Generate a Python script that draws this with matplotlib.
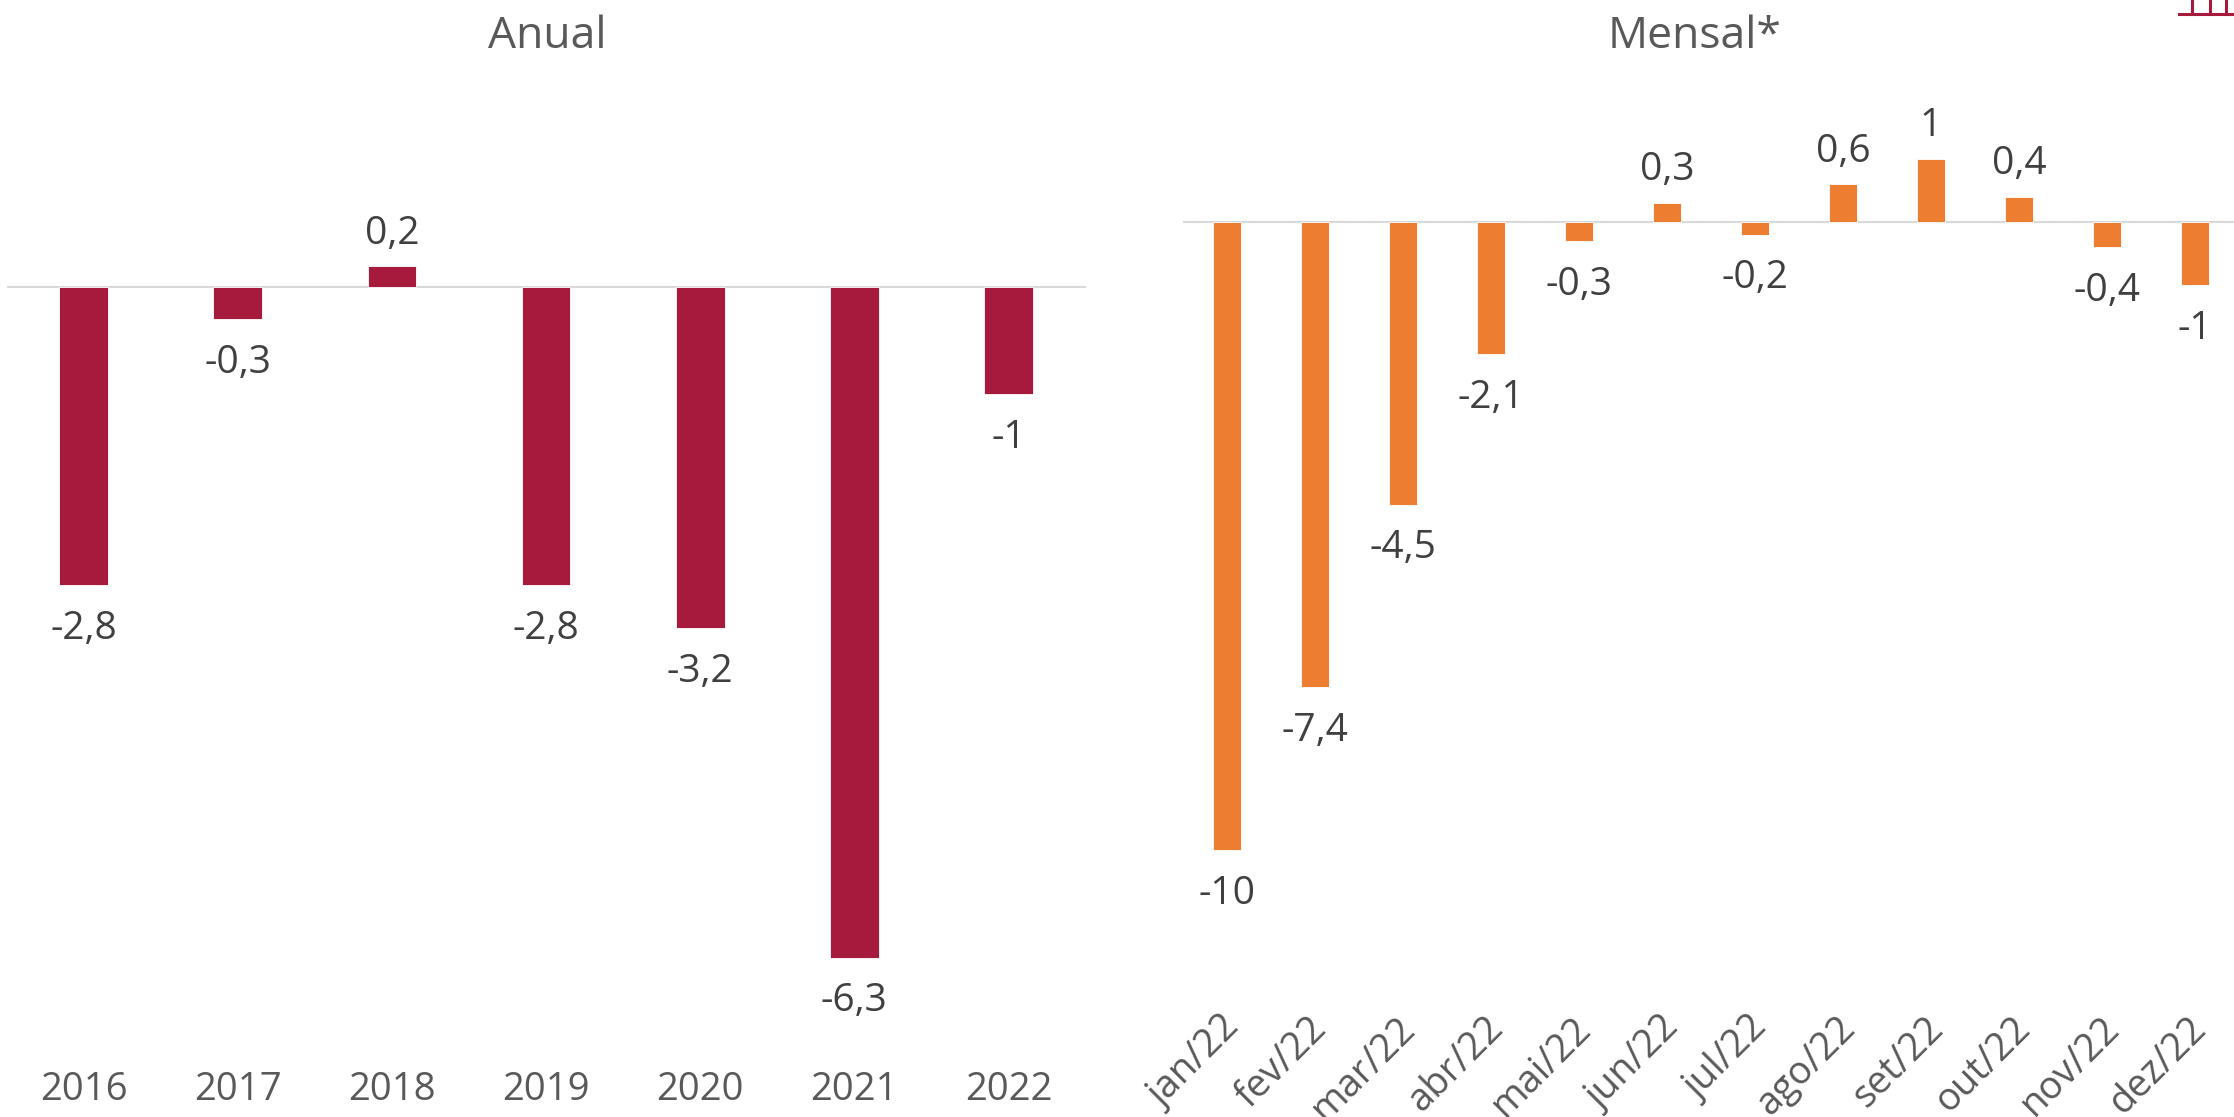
import matplotlib
matplotlib.use("Agg")
import matplotlib.pyplot as plt
from matplotlib.lines import Line2D
from matplotlib.transforms import ScaledTranslation

W, H = 2234, 1117

years = ["2016", "2017", "2018", "2019", "2020", "2021", "2022"]
annual = [-2.8, -0.3, 0.2, -2.8, -3.2, -6.3, -1]

months = ["jan/22", "fev/22", "mar/22", "abr/22", "mai/22", "jun/22",
          "jul/22", "ago/22", "set/22", "out/22", "nov/22", "dez/22"]
monthly = [-10, -7.4, -4.5, -2.1, -0.3, 0.3, -0.2, 0.6, 1, 0.4, -0.4, -1]

RED = "#A51A3D"
ORANGE = "#ED7D31"
plt.rcParams["font.family"] = ["Open Sans", "DejaVu Sans"]


def make_axes(left, right, top, bottom):
    return fig.add_axes([left / W, 1 - bottom / H, (right - left) / W, (bottom - top) / H])


def draw_panel(ax, labels, values, color, width, title, title_x):
    ax.bar(range(len(values)), values, width=width, color=color, edgecolor="white", linewidth=0.6, zorder=2)
    ax.axhline(0, color="#D9D9D9", linewidth=1.5, zorder=1)
    ax.set_xlim(-0.5, len(values) - 0.5)
    for side in ax.spines.values():
        side.set_visible(False)
    ax.yaxis.set_visible(False)
    ax.set_xticks(range(len(values)))
    ax.set_xticklabels(labels)
    for i, v in enumerate(values):
        text = f"{v:g}".replace(".", ",")
        offset = 23.5 if v > 0 else -31.5
        ax.annotate(text, (i, v), xytext=(0, offset), textcoords="offset points",
                    ha="center", va="center", fontsize=28, color="#404040")
    fig.text(title_x / W, 1 - 37 / H, title, ha="center", va="center", fontsize=32, color="#595959")


fig = plt.figure(figsize=(W / 100, H / 100), dpi=100)

ax1 = make_axes(6.5, 1085.6, 5.6, 1032)
draw_panel(ax1, years, annual, RED, 0.316, "Anual", 547)
ax1.set_ylim(-7, 2.65)
ax1.tick_params(axis="x", length=0, pad=28, labelsize=27.5, labelcolor="#595959")

ax2 = make_axes(1183, 2239, 2, 976)
draw_panel(ax2, months, monthly, ORANGE, 0.32, "Mensal*", 1695)
ax2.set_ylim(-12, 3.5)
ax2.tick_params(axis="x", length=0, pad=24, labelsize=27.5, labelcolor="#595959")
shift = ScaledTranslation(-5 / 72, 0, fig.dpi_scale_trans)
for lab in ax2.get_xticklabels():
    lab.set_rotation(45)
    lab.set_ha("right")
    lab.set_va("top")
    lab.set_rotation_mode("anchor")
    lab.set_transform(lab.get_transform() + shift)

# piece of the logo cut off in the top right corner
fig.add_artist(Line2D([2179 / W, 1], [1 - 14 / H] * 2, color=RED, linewidth=2.2))
for x in [2192, 2210, 2226]:
    fig.add_artist(Line2D([x / W] * 2, [1 - 14 / H, 1], color=RED, linewidth=2.2))

fig.savefig("out.png", dpi=100, facecolor="white")
